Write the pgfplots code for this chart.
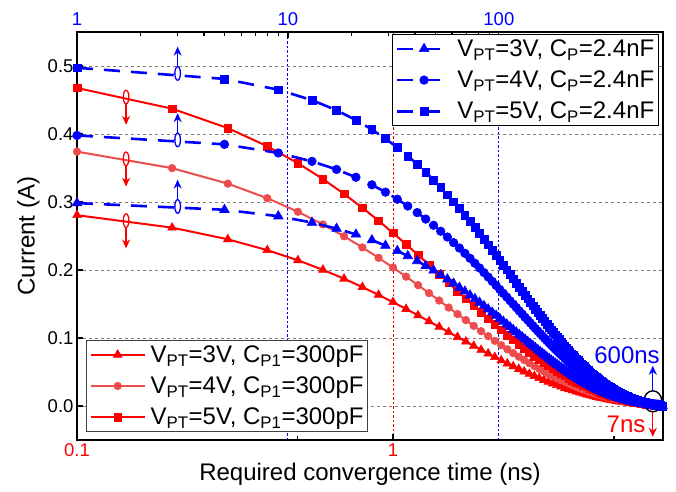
\documentclass[border=0pt]{standalone}
\usepackage{fontspec}
\setmainfont{Liberation Sans}
\usepackage{pgfplots}
\usepackage{pgfplotstable}
\pgfplotsset{compat=1.18}
\usetikzlibrary{arrows.meta}

\definecolor{lred}{RGB}{238,76,76}

% red series: bottom axis (ns), 300pF
\pgfplotstableread{
t r3 r4 r5
0.1 0.2806 0.3741 0.4677
0.2 0.2623 0.3498 0.4372
0.3 0.2452 0.3270 0.4087
0.4 0.2292 0.3056 0.3820
0.5 0.2143 0.2857 0.3571
0.6 0.2003 0.2670 0.3338
0.7 0.1872 0.2495 0.3119
0.8 0.1749 0.2332 0.2915
0.9 0.1634 0.2179 0.2724
1.0 0.1527 0.2036 0.2545
1.1 0.1427 0.1902 0.2378
1.2 0.1333 0.1777 0.2222
1.3 0.1245 0.1660 0.2075
1.4 0.1163 0.1551 0.1938
1.5 0.1086 0.1448 0.1810
1.6 0.1014 0.1352 0.1690
1.7 0.0947 0.1263 0.1578
1.8 0.0884 0.1179 0.1474
1.9 0.0825 0.1100 0.1375
2.0 0.0770 0.1027 0.1284
2.1 0.0719 0.0958 0.1198
2.2 0.0671 0.0894 0.1118
2.3 0.0625 0.0834 0.1042
2.4 0.0583 0.0778 0.0972
2.5 0.0544 0.0725 0.0906
2.6 0.0507 0.0676 0.0845
2.7 0.0472 0.0630 0.0787
2.8 0.0440 0.0587 0.0733
2.9 0.0410 0.0546 0.0683
3.0 0.0382 0.0509 0.0636
3.1 0.0355 0.0473 0.0592
3.2 0.0330 0.0441 0.0551
3.3 0.0307 0.0410 0.0512
3.4 0.0286 0.0381 0.0476
3.5 0.0265 0.0354 0.0442
3.6 0.0246 0.0329 0.0411
3.7 0.0229 0.0305 0.0381
3.8 0.0212 0.0283 0.0353
3.9 0.0197 0.0262 0.0328
4.0 0.0182 0.0243 0.0303
4.1 0.0168 0.0225 0.0281
4.2 0.0156 0.0208 0.0260
4.3 0.0144 0.0192 0.0240
4.4 0.0133 0.0177 0.0221
4.5 0.0122 0.0163 0.0204
4.6 0.0113 0.0150 0.0188
4.7 0.0104 0.0138 0.0173
4.8 0.0095 0.0127 0.0158
4.9 0.0087 0.0116 0.0145
5.0 0.0080 0.0106 0.0133
5.1 0.0073 0.0097 0.0121
5.2 0.0066 0.0088 0.0110
5.3 0.0060 0.0080 0.0100
5.4 0.0054 0.0072 0.0090
5.5 0.0049 0.0065 0.0082
5.6 0.0044 0.0059 0.0073
5.7 0.0039 0.0052 0.0065
5.8 0.0035 0.0047 0.0058
5.9 0.0031 0.0041 0.0051
6.0 0.0027 0.0036 0.0045
6.1 0.0023 0.0031 0.0039
6.2 0.0020 0.0027 0.0033
6.3 0.0017 0.0023 0.0028
6.4 0.0014 0.0019 0.0023
6.5 0.0011 0.0015 0.0019
6.6 0.0009 0.0012 0.0015
6.7 0.0006 0.0008 0.0011
6.8 0.0004 0.0005 0.0007
6.9 0.0002 0.0003 0.0003
7.0 0.0000 0.0000 0.0000
}\redtab

% blue series: top axis (ns), 2.4nF
\pgfplotstableread{
t b3 b4 b5
1 0.2984 0.3979 0.4974
5 0.2886 0.3848 0.4810
9 0.2791 0.3721 0.4651
13 0.2698 0.3598 0.4498
17 0.2609 0.3479 0.4349
21 0.2523 0.3364 0.4205
25 0.2440 0.3253 0.4066
29 0.2359 0.3145 0.3932
33 0.2281 0.3041 0.3802
37 0.2206 0.2941 0.3676
41 0.2133 0.2844 0.3554
45 0.2062 0.2749 0.3437
49 0.1994 0.2658 0.3323
53 0.1928 0.2570 0.3213
57 0.1864 0.2485 0.3106
61 0.1802 0.2403 0.3004
65 0.1742 0.2323 0.2904
69 0.1685 0.2246 0.2808
73 0.1629 0.2172 0.2715
77 0.1575 0.2099 0.2624
81 0.1522 0.2030 0.2537
85 0.1472 0.1962 0.2453
89 0.1423 0.1897 0.2371
93 0.1376 0.1834 0.2293
97 0.1330 0.1773 0.2216
101 0.1285 0.1714 0.2142
105 0.1243 0.1657 0.2071
109 0.1201 0.1602 0.2002
113 0.1161 0.1548 0.1935
117 0.1122 0.1497 0.1871
121 0.1085 0.1447 0.1808
125 0.1049 0.1398 0.1748
129 0.1014 0.1352 0.1690
133 0.0980 0.1306 0.1633
137 0.0947 0.1263 0.1578
141 0.0915 0.1220 0.1526
145 0.0885 0.1180 0.1474
149 0.0855 0.1140 0.1425
153 0.0826 0.1102 0.1377
157 0.0798 0.1065 0.1331
161 0.0772 0.1029 0.1286
165 0.0746 0.0994 0.1243
169 0.0721 0.0961 0.1201
173 0.0696 0.0928 0.1160
177 0.0673 0.0897 0.1121
181 0.0650 0.0867 0.1083
185 0.0628 0.0837 0.1047
189 0.0607 0.0809 0.1011
193 0.0586 0.0782 0.0977
197 0.0566 0.0755 0.0944
201 0.0547 0.0730 0.0912
205 0.0529 0.0705 0.0881
209 0.0511 0.0681 0.0851
213 0.0493 0.0657 0.0822
217 0.0476 0.0635 0.0794
221 0.0460 0.0613 0.0767
225 0.0444 0.0592 0.0740
229 0.0429 0.0572 0.0715
233 0.0414 0.0552 0.0690
237 0.0400 0.0533 0.0667
241 0.0386 0.0515 0.0644
245 0.0373 0.0497 0.0622
249 0.0360 0.0480 0.0600
253 0.0348 0.0463 0.0579
257 0.0335 0.0447 0.0559
261 0.0324 0.0432 0.0540
265 0.0313 0.0417 0.0521
269 0.0302 0.0402 0.0503
273 0.0291 0.0388 0.0485
277 0.0281 0.0374 0.0468
281 0.0271 0.0361 0.0452
285 0.0261 0.0349 0.0436
289 0.0252 0.0336 0.0420
293 0.0243 0.0324 0.0405
297 0.0235 0.0313 0.0391
301 0.0226 0.0302 0.0377
305 0.0218 0.0291 0.0364
309 0.0210 0.0280 0.0351
313 0.0203 0.0270 0.0338
317 0.0195 0.0261 0.0326
321 0.0188 0.0251 0.0314
325 0.0182 0.0242 0.0303
329 0.0175 0.0233 0.0292
333 0.0168 0.0225 0.0281
337 0.0162 0.0216 0.0271
341 0.0156 0.0208 0.0261
345 0.0151 0.0201 0.0251
349 0.0145 0.0193 0.0242
353 0.0139 0.0186 0.0232
357 0.0134 0.0179 0.0224
361 0.0129 0.0172 0.0215
365 0.0124 0.0166 0.0207
369 0.0120 0.0159 0.0199
373 0.0115 0.0153 0.0192
377 0.0111 0.0147 0.0184
381 0.0106 0.0142 0.0177
385 0.0102 0.0136 0.0170
389 0.0098 0.0131 0.0163
393 0.0094 0.0126 0.0157
397 0.0090 0.0121 0.0151
401 0.0087 0.0116 0.0145
405 0.0083 0.0111 0.0139
409 0.0080 0.0106 0.0133
413 0.0077 0.0102 0.0128
417 0.0073 0.0098 0.0122
421 0.0070 0.0094 0.0117
425 0.0067 0.0090 0.0112
429 0.0064 0.0086 0.0107
433 0.0062 0.0082 0.0103
437 0.0059 0.0079 0.0098
441 0.0056 0.0075 0.0094
445 0.0054 0.0072 0.0090
449 0.0051 0.0069 0.0086
453 0.0049 0.0065 0.0082
457 0.0047 0.0062 0.0078
461 0.0045 0.0059 0.0074
465 0.0042 0.0057 0.0071
469 0.0040 0.0054 0.0067
473 0.0038 0.0051 0.0064
477 0.0036 0.0049 0.0061
481 0.0035 0.0046 0.0058
485 0.0033 0.0044 0.0055
489 0.0031 0.0041 0.0052
493 0.0029 0.0039 0.0049
497 0.0028 0.0037 0.0046
501 0.0026 0.0035 0.0044
505 0.0025 0.0033 0.0041
509 0.0023 0.0031 0.0039
513 0.0022 0.0029 0.0036
517 0.0020 0.0027 0.0034
521 0.0019 0.0025 0.0032
525 0.0018 0.0024 0.0030
529 0.0016 0.0022 0.0027
533 0.0015 0.0020 0.0025
537 0.0014 0.0019 0.0023
541 0.0013 0.0017 0.0022
545 0.0012 0.0016 0.0020
549 0.0011 0.0014 0.0018
553 0.0010 0.0013 0.0016
557 0.0009 0.0012 0.0015
561 0.0008 0.0010 0.0013
565 0.0007 0.0009 0.0012
569 0.0006 0.0008 0.0010
573 0.0005 0.0007 0.0009
577 0.0004 0.0006 0.0007
581 0.0004 0.0005 0.0006
585 0.0003 0.0004 0.0005
589 0.0002 0.0003 0.0003
593 0.0001 0.0002 0.0002
597 0.0001 0.0001 0.0001
}\bluetab

\tikzset{
  bigfont/.style={font=\fontsize{24}{28}\selectfont},
  tickfont/.style={font=\fontsize{18.5}{22}\selectfont},
  arr/.style={line width=1.3pt, -{Stealth[length=9pt, width=8pt]}},
}
\pgfplotsset{
  set layers,
  legimg/.style={legend image code/.code={
    \draw[mark repeat=2,mark phase=2] plot coordinates {(0pt,0pt)(27pt,0pt)(54pt,0pt)};}},
  base/.style={
    width=586pt, height=408pt, scale only axis,
    at={(0,0)}, anchor=south west,
    ymin=-0.05, ymax=0.55,
    tick align=inside,
    major tick length=6pt, minor tick length=4pt,
    tick style={black, line width=1.2pt},
    axis line style={line width=1.8pt},
    /pgf/number format/assume math mode=true,
    legend cell align=left,
    legend style={bigfont, draw=black, line width=1.3pt, fill=white,
      inner xsep=3pt, inner ysep=4pt, row sep=11pt,
      nodes={inner sep=1pt},
      /tikz/every odd column/.append style={column sep=4pt}},
  },
}

\begin{document}
\begin{tikzpicture}

% bottom axis: 300pF curves
\begin{axis}[
  base,
  xmode=log, xmin=0.1, xmax=7.15,
  xtick={0.1,1}, xticklabels={0.1,1},
  minor xtick={0.5,5},
  xtick pos=lower, ytick pos=left,
  ytick={0,0.1,0.2,0.3,0.4,0.5},
  yticklabel style={tickfont, /pgf/number format/.cd, fixed, fixed zerofill, precision=1},
  xticklabel style={tickfont, red},
  xmajorgrids, ymajorgrids,
  x grid style={red, dash pattern=on 2.5pt off 2pt, line width=1pt},
  y grid style={gray, dash pattern=on 3pt off 3pt, line width=0.9pt},
  xlabel={Required convergence time (ns)},
  ylabel={Current (A)},
  label style={bigfont},
  xlabel style={at={(axis description cs:0.5,-0.085)}, anchor=center},
  ylabel style={at={(axis description cs:-0.083,0.5)}, anchor=center},
  legend style={at={(rel axis cs:0.0154,0.0196)}, anchor=south west, draw=black!75},
]
\addplot[red, line width=2pt, mark=triangle*, mark size=5pt,
  mark options={line width=0.6pt}, legimg] table[x=t, y=r3] {\redtab};
\addlegendentry{V\textsubscript{PT}=3V, C\textsubscript{P1}=300pF}
\addplot[lred, line width=2pt, mark=*, mark size=3.8pt,
  mark options={line width=0.6pt}, legimg] table[x=t, y=r4] {\redtab};
\addlegendentry{V\textsubscript{PT}=4V, C\textsubscript{P1}=300pF}
\addplot[red, line width=2pt, mark=square*, mark size=3.8pt,
  mark options={line width=0.6pt}, legimg] table[x=t, y=r5] {\redtab};
\addlegendentry{V\textsubscript{PT}=5V, C\textsubscript{P1}=300pF}

% markers telling which axis the red curves use
\pgfplotsinvokeforeach{0.2726,0.3635,0.4543}{
  \draw[red, line width=1.3pt] (axis cs:0.143,#1) ellipse [x radius=2.8pt, y radius=6.8pt];
  \draw[red, arr] ([yshift=-6.8pt]axis cs:0.143,#1) -- ++(0pt,-21pt);
}
\end{axis}

% top axis: 2.4nF curves
\begin{axis}[
  base,
  xmode=log, xmin=1, xmax=600,
  axis x line*=top, axis y line=none, ytick=\empty,
  xtick={1,10,100}, xticklabels={1,10,100},
  xticklabel style={tickfont, blue, yshift=3pt},
  legend style={at={(rel axis cs:0.993,0.995)}, anchor=north east},
]
% blue grid lines of the top axis
\begin{pgfonlayer}{axis grid}
\draw[blue, dash pattern=on 2.5pt off 2pt, line width=1pt]
  (axis cs:10,-0.05) -- (axis cs:10,0.55)
  (axis cs:100,-0.05) -- (axis cs:100,0.55);
\end{pgfonlayer}
\addplot[blue, line width=2.6pt, dash pattern=on 16pt off 11pt, mark=triangle*, mark size=5.5pt,
  mark options={solid, line width=0.6pt}, legimg] table[x=t, y=b3] {\bluetab};
\addlegendentry{V\textsubscript{PT}=3V, C\textsubscript{P}=2.4nF}
\addplot[blue, line width=2.6pt, dash pattern=on 16pt off 11pt, mark=*, mark size=4.3pt,
  mark options={solid, line width=0.6pt}, legimg] table[x=t, y=b4] {\bluetab};
\addlegendentry{V\textsubscript{PT}=4V, C\textsubscript{P}=2.4nF}
\addplot[blue, line width=2.6pt, dash pattern=on 16pt off 11pt, mark=square*, mark size=3.9pt,
  mark options={solid, line width=0.6pt}, legimg] table[x=t, y=b5] {\bluetab};
\addlegendentry{V\textsubscript{PT}=5V, C\textsubscript{P}=2.4nF}

\pgfplotsinvokeforeach{0.2935,0.3913,0.4891}{
  \draw[blue, line width=1.3pt] (axis cs:3,#1) ellipse [x radius=2.8pt, y radius=6.8pt];
  \draw[blue, arr] ([yshift=6.8pt]axis cs:3,#1) -- ++(0pt,20pt);
}

% end point of both sets of curves
\draw[black, line width=1.4pt] (rel axis cs:0.9826,0.0949) ellipse [x radius=9pt, y radius=10.5pt];
\draw[blue, arr] ([yshift=10.5pt]rel axis cs:0.9826,0.0949) -- ++(0pt,25pt);
\draw[red, arr] ([yshift=-10.5pt]rel axis cs:0.9826,0.0949) -- ++(0pt,-25pt);
\node[blue, bigfont, inner sep=0pt] at (rel axis cs:0.9386,0.2071) {600ns};
\node[red, bigfont, inner sep=0pt] at (rel axis cs:0.9369,0.038) {7ns};
\end{axis}
\path (-77pt,-51pt) rectangle (599pt,440pt);
\end{tikzpicture}
\end{document}
